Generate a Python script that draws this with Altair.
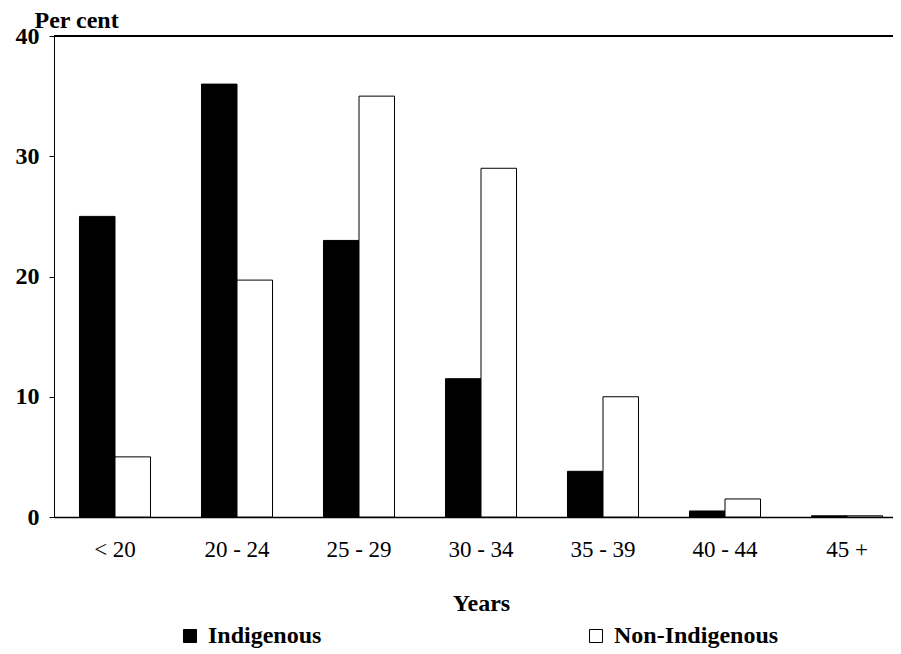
import altair as alt
import pandas as pd

ages = ["< 20", "20 - 24", "25 - 29", "30 - 34", "35 - 39", "40 - 44", "45 +"]
indigenous = [25.0, 36.0, 23.0, 11.5, 3.8, 0.5, 0.1]
non_indigenous = [5.0, 19.7, 35.0, 29.0, 10.0, 1.5, 0.1]
groups = ["Indigenous", "Non-Indigenous"]

rows = []
for a, i, n in zip(ages, indigenous, non_indigenous):
    rows.append({"age": a, "group": groups[0], "value": i})
    rows.append({"age": a, "group": groups[1], "value": n})
df = pd.DataFrame(rows)

FONT = "Liberation Serif"

bars = alt.Chart(df).mark_bar(stroke="black", strokeWidth=1).encode(
    x=alt.X("age:N", sort=ages,
            scale=alt.Scale(range=[0, 854], paddingInner=0.418, paddingOuter=0.209),
            axis=alt.Axis(title="Years", labelAngle=0, ticks=False, domainColor="black",
                          domainWidth=1.5, labelFont=FONT, labelFontSize=23,
                          labelFontWeight="normal", labelColor="black", labelPadding=21,
                          titleFont=FONT, titleFontSize=24, titleFontWeight="bold",
                          titleColor="black", titlePadding=30)),
    xOffset=alt.XOffset("group:N", sort=groups,
                        scale=alt.Scale(paddingInner=0, paddingOuter=0)),
    y=alt.Y("value:Q", scale=alt.Scale(domain=[0, 40], nice=False),
            axis=alt.Axis(values=[0, 10, 20, 30, 40], grid=False, title="Per cent",
                          titleAngle=0, titleAlign="left", titleBaseline="alphabetic",
                          titleX=-20, titleY=-9, titleFont=FONT, titleFontSize=24,
                          titleFontWeight="bold", titleColor="black",
                          domainColor="black", tickColor="black", tickSize=5,
                          labelFont=FONT, labelFontSize=24, labelFontWeight="bold",
                          labelColor="black", labelPadding=10)),
    color=alt.Color("group:N", sort=groups,
                    scale=alt.Scale(domain=groups, range=["black", "white"]),
                    legend=alt.Legend(title=None, orient="none", direction="horizontal",
                                      legendX=124, legendY=588, symbolType="square",
                                      symbolSize=169, symbolStrokeColor="black",
                                      symbolStrokeWidth=1, labelFont=FONT,
                                      labelFontSize=24, labelFontWeight="bold",
                                      labelColor="black", labelOffset=6,
                                      labelLimit=400, columnPadding=262)),
)

top = alt.Chart(df).mark_rule(color="black", strokeWidth=1).encode(y=alt.datum(40))

chart = alt.layer(bars, top).properties(
    width=839, height=481,
    autosize=alt.AutoSizeParams(type="none"),
    padding={"left": 46, "top": 28, "right": 0, "bottom": 132},
).configure_view(stroke=None).configure(background="white")

chart.save("out.html", embed_options={"renderer": "svg", "actions": False})
